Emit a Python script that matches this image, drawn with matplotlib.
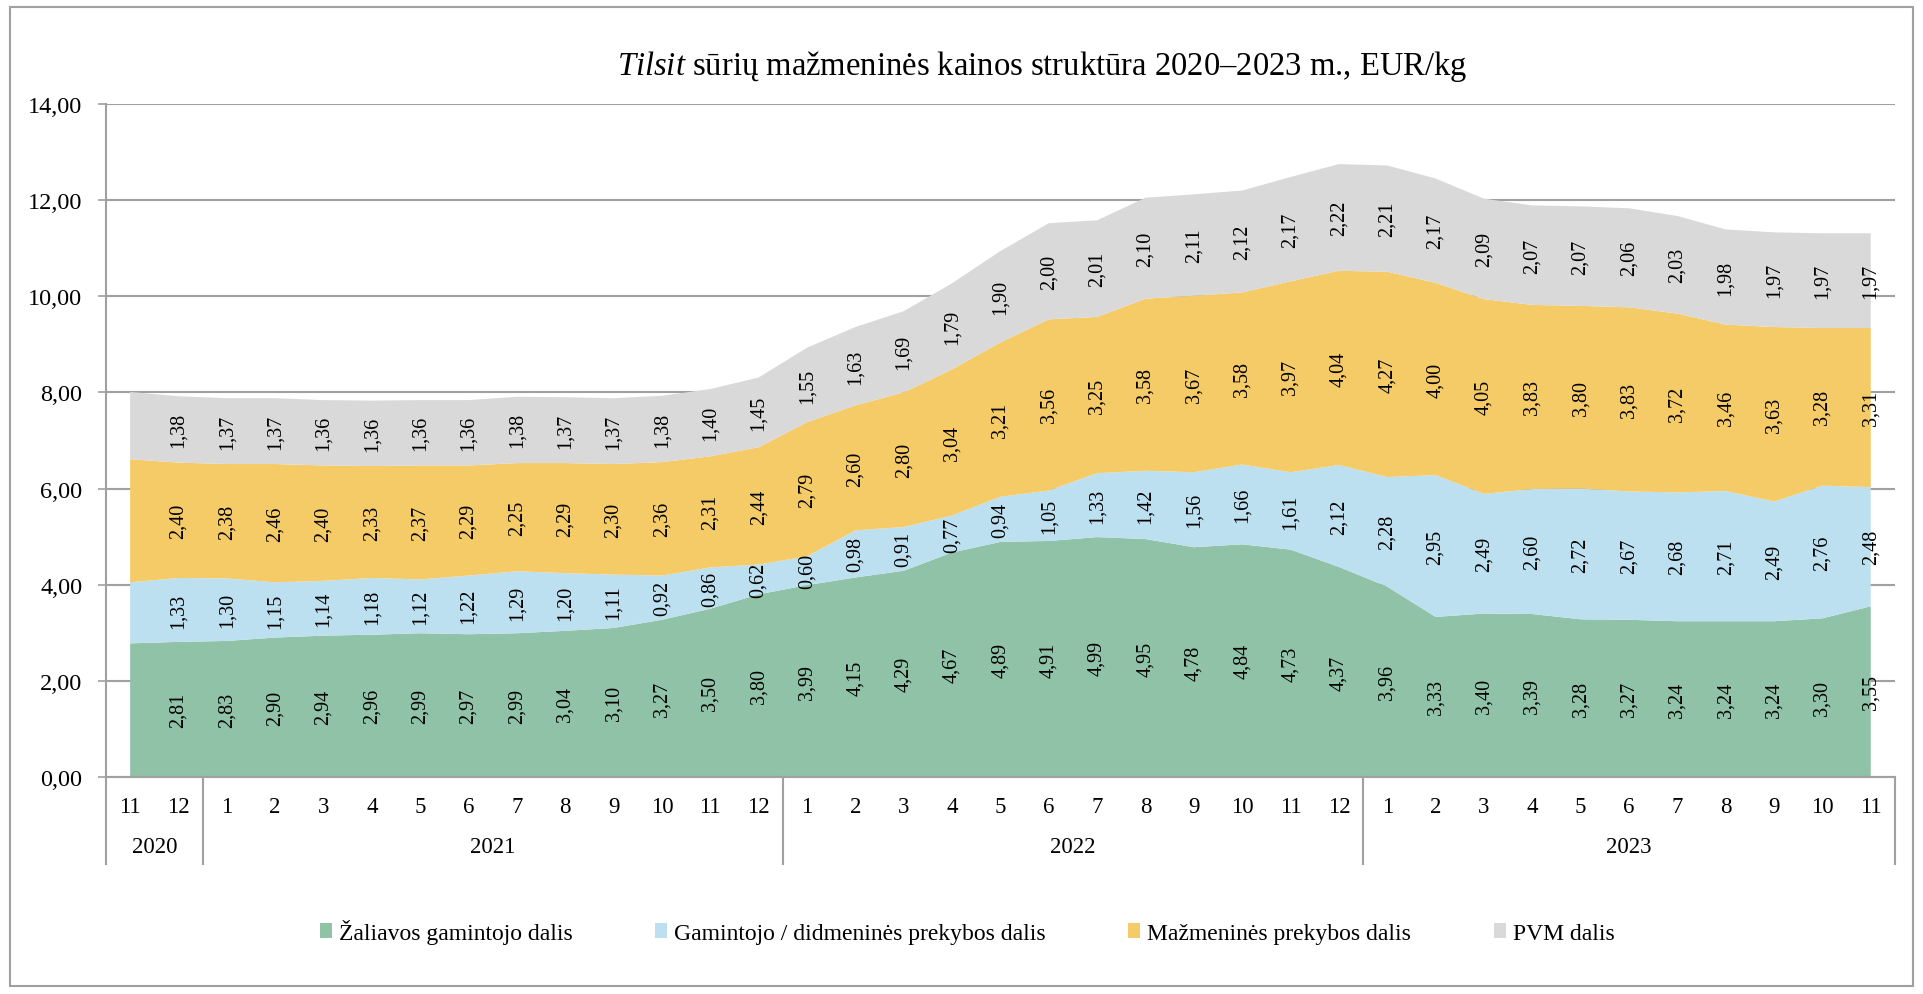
import matplotlib
matplotlib.use("Agg")
import matplotlib.pyplot as plt
from matplotlib.patches import Patch, Rectangle
import numpy as np

plt.rcParams['font.family'] = ['Liberation Serif', 'DejaVu Serif']
plt.rcParams['mathtext.fontset'] = 'custom'
plt.rcParams['mathtext.it'] = 'Liberation Serif:italic'
plt.rcParams['mathtext.rm'] = 'Liberation Serif'

# 2020-11 ... 2023-11 (first point has no data label in the original)
months = [11, 12,
          1, 2, 3, 4, 5, 6, 7, 8, 9, 10, 11, 12,
          1, 2, 3, 4, 5, 6, 7, 8, 9, 10, 11, 12,
          1, 2, 3, 4, 5, 6, 7, 8, 9, 10, 11]
years = ['2020', '2021', '2022', '2023']
year_len = [2, 12, 12, 11]

zaliava = [2.78, 2.81,
           2.83, 2.90, 2.94, 2.96, 2.99, 2.97, 2.99, 3.04, 3.10, 3.27, 3.50, 3.80,
           3.99, 4.15, 4.29, 4.67, 4.89, 4.91, 4.99, 4.95, 4.78, 4.84, 4.73, 4.37,
           3.96, 3.33, 3.40, 3.39, 3.28, 3.27, 3.24, 3.24, 3.24, 3.30, 3.55]
gamintojo = [1.27, 1.33,
             1.30, 1.15, 1.14, 1.18, 1.12, 1.22, 1.29, 1.20, 1.11, 0.92, 0.86, 0.62,
             0.60, 0.98, 0.91, 0.77, 0.94, 1.05, 1.33, 1.42, 1.56, 1.66, 1.61, 2.12,
             2.28, 2.95, 2.49, 2.60, 2.72, 2.67, 2.68, 2.71, 2.49, 2.76, 2.48]
mazmenine = [2.56, 2.40,
             2.38, 2.46, 2.40, 2.33, 2.37, 2.29, 2.25, 2.29, 2.30, 2.36, 2.31, 2.44,
             2.79, 2.60, 2.80, 3.04, 3.21, 3.56, 3.25, 3.58, 3.67, 3.58, 3.97, 4.04,
             4.27, 4.00, 4.05, 3.83, 3.80, 3.83, 3.72, 3.46, 3.63, 3.28, 3.31]
pvm = [1.40, 1.38,
       1.37, 1.37, 1.36, 1.36, 1.36, 1.36, 1.38, 1.37, 1.37, 1.38, 1.40, 1.45,
       1.55, 1.63, 1.69, 1.79, 1.90, 2.00, 2.01, 2.10, 2.11, 2.12, 2.17, 2.22,
       2.21, 2.17, 2.09, 2.07, 2.07, 2.06, 2.03, 1.98, 1.97, 1.97, 1.97]

names = ['Žaliavos gamintojo dalis', 'Gamintojo / didmeninės prekybos dalis',
         'Mažmeninės prekybos dalis', 'PVM dalis']
colors = ['#8FC2A6', '#BDE0F0', '#F5CB67', '#D9D9D9']
grey = '#A0A0A0'

fig = plt.figure(figsize=(19.23, 9.95), dpi=100)
ax = fig.add_axes([0.0551, 0.2181, 0.9303, 0.6764])

x = np.arange(len(months))
series = [zaliava, gamintojo, mazmenine, pvm]
ax.stackplot(x, *series, colors=colors, zorder=2, linewidth=0)

# data labels (centered in each band), skipping the first month
bottom = np.zeros(len(x))
for s in series:
    s = np.array(s)
    for i in range(1, len(x)):
        ax.text(x[i], bottom[i] + s[i] / 2, f"{s[i]:.2f}".replace('.', ','),
                rotation=90, ha='center', va='center', fontsize=14.5, zorder=3)
    bottom += s

ax.set_xlim(-0.5, len(x) - 0.5)
ax.set_ylim(0, 14)
yt = np.arange(0, 15, 2)
ax.set_yticks(yt)
ax.set_yticklabels([f"{v:.2f}".replace('.', ',') for v in yt], fontsize=17.5)
ax.yaxis.grid(True, color=grey, linewidth=1.5, zorder=1)
ax.set_axisbelow(True)
ax.tick_params(axis='y', direction='out', length=6, color=grey, width=1.2, pad=11)
ax.set_xticks([])
for side in ['top', 'right']:
    ax.spines[side].set_visible(False)
for side in ['left', 'bottom']:
    ax.spines[side].set_color(grey)
    ax.spines[side].set_linewidth(1.5)

# two-level category axis
tr = ax.get_xaxis_transform()
for i, m in enumerate(months):
    ax.annotate(str(m), xy=(i, 0), xycoords=tr, xytext=(0, -21),
                textcoords='offset points', ha='center', va='center', fontsize=16.5)
start = -0.5
bounds = [start]
for name, n in zip(years, year_len):
    ax.annotate(name, xy=(start + n / 2, 0), xycoords=tr, xytext=(0, -50),
                textcoords='offset points', ha='center', va='center', fontsize=16.5)
    start += n
    bounds.append(start)
for b in bounds:
    ax.plot([b, b], [0, -0.13], transform=tr, color=grey, linewidth=1.5,
            clip_on=False)

fig.text(0.542, 1 - 67 / 995,
         r"$\it{Tilsit}$ sūrių mažmeninės kainos struktūra 2020–2023 m., EUR/kg",
         fontsize=23.5, ha='center', va='center')

handles = [Patch(facecolor=c, edgecolor='none') for c in colors]
fig.legend(handles, names, loc='center', bbox_to_anchor=(0.503, 0.063), ncol=4,
           frameon=False, fontsize=17, handlelength=0.5, handleheight=0.6,
           handletextpad=0.3, columnspacing=3.5)

fig.patches.append(Rectangle((0.005, 0.008), 0.99, 0.984, transform=fig.transFigure,
                             fill=False, edgecolor=grey, linewidth=1.5))

fig.savefig('out.png', dpi=100)
